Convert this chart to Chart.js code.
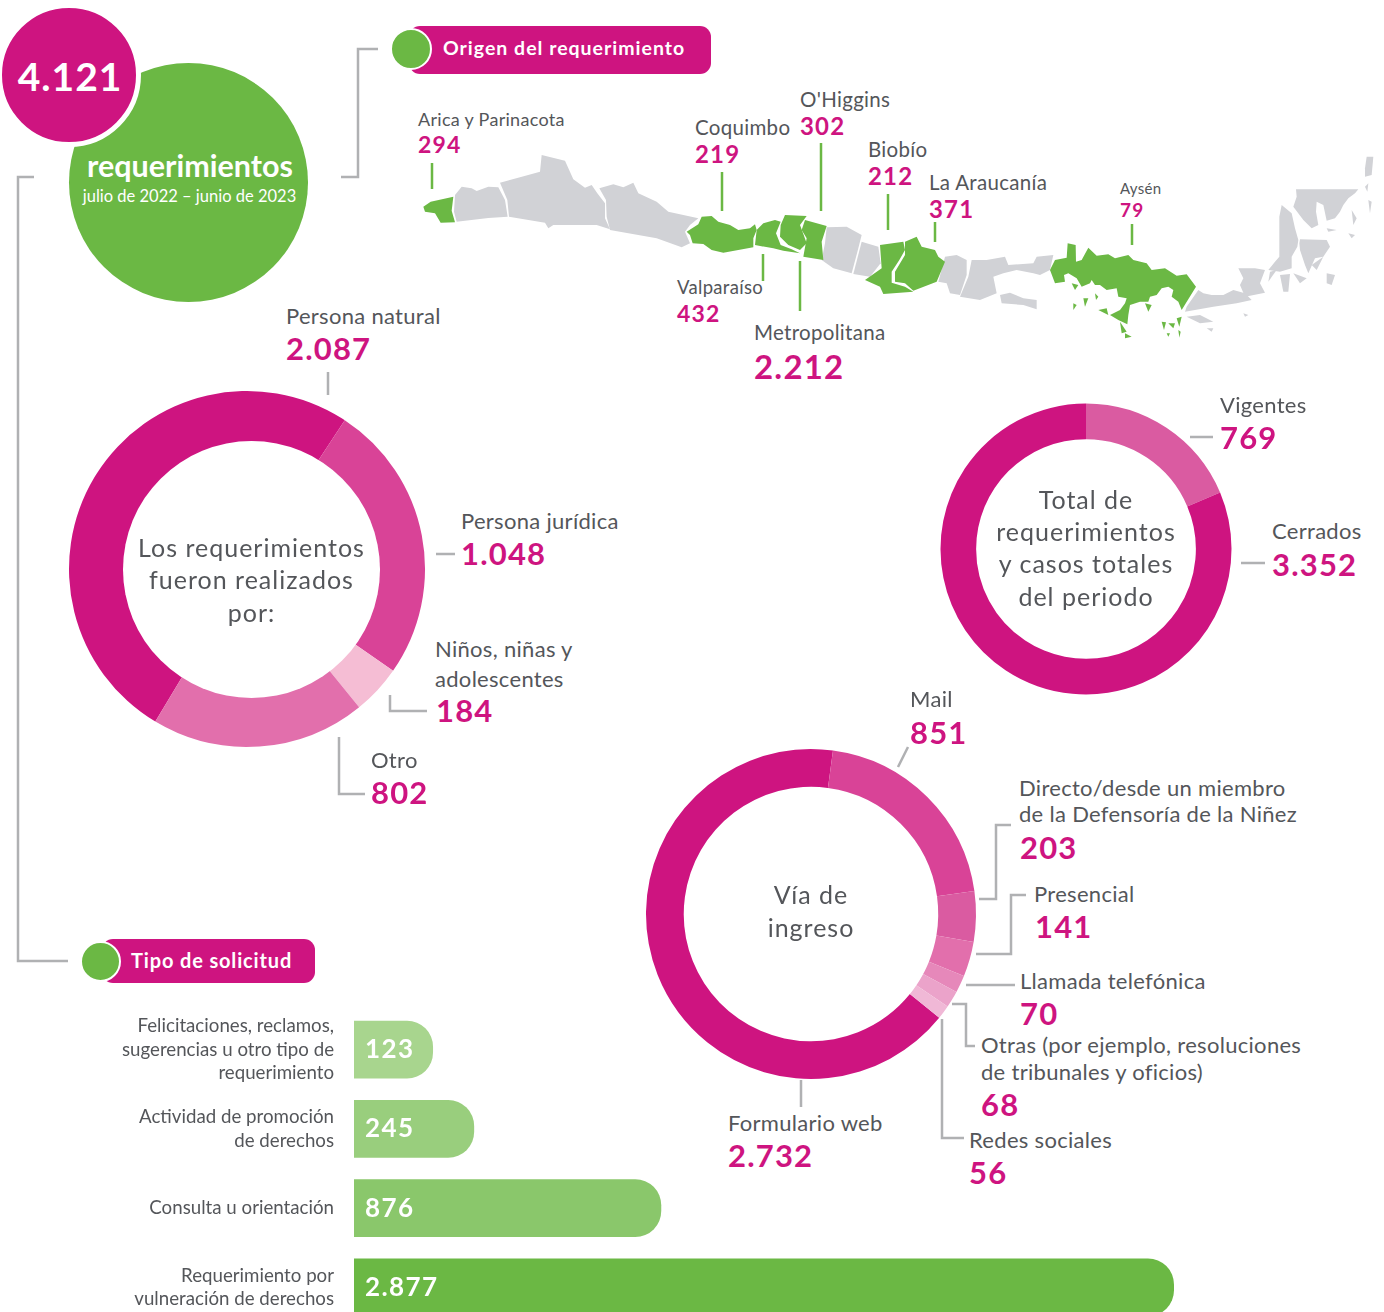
<!DOCTYPE html>
<html lang="es">
<head>
<meta charset="utf-8">
<title>Requerimientos julio de 2022 – junio de 2023</title>
<script src="https://cdn.jsdelivr.net/npm/chart.js@4"></script>
<style>
  html, body { margin: 0; padding: 0; background: #fff; }
  body { width: 1384px; height: 1312px; overflow: hidden; }
  #page { position: relative; width: 1384px; height: 1312px; overflow: hidden; font-family: Lato, sans-serif; color: #54565a; }
  #page canvas, #page svg { position: absolute; }
  .t { position: absolute; white-space: nowrap; transform: translateY(calc(-50% - 1px)); line-height: 1; }
  .c { transform: translate(-50%, calc(-50% - 1px)); }
  .name { font-size: 22px; letter-spacing: .3px; }
  .num { font-size: 31px; font-weight: 700; color: #ce1480; letter-spacing: 1.2px; }
  .mid { font-size: 25px; letter-spacing: 1px; }
  .w { color: #fff; }
  .blob { position: absolute; border-radius: 50%; box-sizing: border-box; }
  .pill { position: absolute; background: #ce1480; border-radius: 11px; }
</style>
</head>
<body>
<div id="page">
  <div class="blob" style="left:69px;top:63px;width:239px;height:239px;background:#6bb844"></div>
  <div class="blob" style="left:-3px;top:3px;width:144px;height:144px;background:#ce1480;border:5px solid #fff"></div>
  <div class="t c w" style="left:70px;top:77px;font-size:39px;font-weight:700;letter-spacing:1px">4.121</div>
  <div class="t c w" style="left:190px;top:166px;font-size:30.5px;font-weight:700">requerimientos</div>
  <div class="t c w" style="left:189.5px;top:197px;font-size:16.5px">julio de 2022 – junio de 2023</div>

  <div class="pill" style="left:409px;top:26px;width:302px;height:48px"></div>
  <div class="blob" style="left:390px;top:28px;width:42px;height:42px;background:#6bb844;border:2px solid #fff"></div>
  <div class="t w" style="left:443px;top:49px;font-size:19.5px;font-weight:700;letter-spacing:1px">Origen del requerimiento</div>

  <div class="pill" style="left:102px;top:939px;width:213px;height:44px"></div>
  <div class="blob" style="left:80px;top:941px;width:41px;height:41px;background:#6bb844;border:2px solid #fff"></div>
  <div class="t w" style="left:131px;top:961px;font-size:20px;font-weight:700;letter-spacing:.85px">Tipo de solicitud</div>

  <!-- mapa de regiones, trazado sobre los recortes a 3x -->
  <svg width="1384" height="1312" style="left:0;top:0">
    <g transform="translate(410 90) scale(.33333)" stroke="none">
      <g fill="#d1d2d6">
        <polygon points="155,290 185,295 200,303 235,290 265,292 285,330 293,380 235,384 140,395 132,365 135,315"/>
        <polygon points="270,278 330,262 390,245 395,195 465,212 490,268 525,293 545,285 562,310 585,340 585,385 600,418 560,405 430,405 415,415 405,398 297,380 292,330"/>
        <polygon points="568,295 610,283 640,292 670,278 685,310 740,335 775,365 820,375 865,385 840,405 825,425 840,460 815,472 740,445 600,420 590,380 588,330"/>
        <polygon points="1250,412 1310,410 1355,435 1345,475 1325,550 1270,535 1235,510 1245,460"/>
        <polygon points="1355,455 1405,470 1412,520 1380,560 1330,552"/>
      </g>
      <g fill="#6bb844">
        <polygon points="40,350 62,335 130,320 125,362 135,397 92,398 75,370 45,365"/>
        <polygon points="830,425 865,403 875,380 905,378 925,395 960,405 985,420 1020,415 1035,403 1040,420 1030,445 1030,472 940,488 905,480 880,462 848,460 840,435"/>
        <polygon points="1035,465 1040,420 1060,400 1095,390 1112,395 1098,430 1112,465 1145,478 1170,490 1120,482 1090,475"/>
        <polygon points="1125,375 1190,378 1170,405 1180,432 1190,460 1170,480 1135,465 1110,440 1112,405"/>
        <polygon points="1185,390 1250,408 1235,455 1240,510 1180,500 1190,445 1175,420"/>
      </g>
    </g>
    <g transform="translate(860 140) scale(.33333)" stroke="none">
      <g fill="#d1d2d6">
        <polygon points="255,350 290,345 320,360 320,405 300,465 270,460 260,430 235,425"/>
        <polygon points="335,360 380,360 435,350 445,375 520,370 530,350 580,345 570,390 540,405 520,400 470,390 430,400 400,410 410,460 360,480 300,470 325,410"/>
        <polygon points="420,465 450,458 490,475 530,480 530,508 490,495 425,490"/>
      </g>
      <g fill="#6bb844">
        <polygon points="60,315 130,305 135,330 118,360 95,395 95,428 135,440 160,455 70,462 60,440 15,420 65,385"/>
        <polygon points="135,305 170,290 185,320 225,330 235,350 255,365 230,425 160,452 135,430 105,425 105,395 135,345"/>
      </g>
    </g>
    <g transform="translate(1040 235) scale(.33333)" fill="#6bb844" stroke="none">
      <polygon points="30,105 45,75 80,68 83,25 107,30 108,80 125,75 145,38 170,62 205,58 225,70 265,60 280,75 320,85 335,105 375,100 410,122 440,118 468,155 425,225 415,200 395,185 400,165 385,155 365,160 350,180 330,185 325,200 300,200 270,210 265,240 262,268 235,255 210,240 240,225 255,205 260,190 235,185 230,160 200,165 180,150 165,150 155,135 160,125 150,145 125,155 110,130 85,115 72,120 75,140 45,145"/>
      <polygon points="95,145 115,150 105,165"/>
      <polygon points="130,190 145,190 135,215"/>
      <polygon points="100,205 110,210 100,225"/>
      <polygon points="165,175 175,185 168,195"/>
      <polygon points="315,205 335,210 325,230"/>
      <polygon points="175,225 200,220 205,240"/>
      <polygon points="240,260 260,290 245,295"/>
      <polygon points="255,295 275,305 255,310"/>
      <polygon points="365,260 378,262 372,285"/>
      <polygon points="385,265 405,265 400,280"/>
      <polygon points="410,250 425,245 418,275"/>
      <polygon points="380,295 390,295 385,305"/>
      <polygon points="415,285 422,290 418,308"/>
    </g>
    <g transform="translate(1180 150) scale(.33333)" fill="#d1d2d6" stroke="none">
      <polygon points="348,118 535,118 525,130 505,145 490,165 480,185 465,205 440,212 430,165 410,155 408,185 415,225 395,235 370,210 340,170 350,140"/>
      <polygon points="305,165 335,190 345,235 355,270 352,290 335,320 335,355 300,365 265,360 285,335 298,320 298,200"/>
      <polygon points="360,268 440,270 450,290 430,320 405,325 385,370 375,345 360,300 358,280"/>
      <polygon points="175,355 225,355 255,360 240,400 255,428 195,440 180,405 190,385"/>
      <polygon points="55,420 20,470 15,485 100,470 170,460 215,450 195,430 160,420 130,435 95,435 70,430"/>
      <polygon points="555,55 560,20 580,20 575,75 555,80"/>
      <polygon points="300,375 330,372 325,425 310,425"/>
      <polygon points="340,370 380,385 360,400"/>
      <polygon points="395,345 430,320 410,360"/>
      <polygon points="270,365 290,360 265,395"/>
      <polygon points="440,370 465,375 455,405 440,400"/>
      <polygon points="515,180 530,205 520,225"/>
      <polygon points="505,250 525,255 515,265"/>
      <polygon points="20,500 60,495 100,515 60,520"/>
      <polygon points="190,490 205,495 195,500"/>
      <polygon points="80,535 100,535 95,545"/>
      <polygon points="440,235 470,240 445,245"/>
      <polygon points="555,110 565,100 562,125"/>
      <polygon points="565,150 575,155 570,190"/>
    </g>
    <g fill="none" stroke="#6bb844" stroke-width="2.5">
      <path d="M432 163V189M722 172V211M821 143V211M888 194V230M935 222V242M1132 224V245M763 254V281M800 261V311"/>
    </g>
    <g fill="none" stroke="#b0b1b3" stroke-width="2.5">
      <path d="M378 49H358V177H341M34 177H18V961H68"/>
      <path d="M328 372V395M436 554H455M427 711H390V695M339 737V794H365"/>
      <path d="M1190 437H1213M1241 563H1265"/>
      <path d="M908 747L898 767M1011 825H996V899H979M1026 895H1011V954H976M966 985H1015M952 1004H966V1046H975M942 1019V1138H964M801 1080V1107"/>
    </g>
  </svg>
</div>

<script>
const regionNames = ['Arica y Parinacota', 'Coquimbo', "O'Higgins", 'Biobío', 'La Araucanía', 'Aysén', 'Valparaíso', 'Metropolitana'];
const regionValues = [294, 219, 302, 212, 371, 79, 432, 2212];

const solicitanteNames = ['Persona natural', 'Persona jurídica', 'Niños, niñas y|adolescentes', 'Otro'];
const solicitanteValues = [2087, 1048, 184, 802];
const solicitanteColors = ['#ce1480', '#d94397', '#f5bdd4', '#e26fac'];

const estadoNames = ['Vigentes', 'Cerrados'];
const estadoValues = [769, 3352];
const estadoColors = ['#da5ba1', '#ce1480'];

const viaNames = ['Formulario web', 'Mail', 'Directo/desde un miembro|de la Defensoría de la Niñez', 'Presencial', 'Llamada telefónica', 'Otras (por ejemplo, resoluciones|de tribunales y oficios)', 'Redes sociales'];
const viaValues = [2732, 851, 203, 141, 70, 68, 56];
const viaColors = ['#ce1480', '#d94397', '#da5ba1', '#e26fac', '#e688ba', '#eba3ca', '#f0b8d6'];

const tipoLabels = [
  ['Felicitaciones, reclamos,', 'sugerencias u otro tipo de', 'requerimiento'],
  ['Actividad de promoción', 'de derechos'],
  ['Consulta u orientación'],
  ['Requerimiento por', 'vulneración de derechos'],
];
const tipoValues = [123, 245, 876, 2877];
const tipoColors = ['#a8d58e', '#99ce7d', '#8ac76b', '#6bb844'];

const page = document.getElementById('page');
const fmt = v => String(v).replace(/\B(?=(\d{3})+$)/g, '.');

const donut = (values, colors, cx, cy, outer, inner, rotation) => {
  const size = Math.ceil(outer) * 2 + 2;
  const canvas = document.createElement('canvas');
  canvas.width = size;
  canvas.height = size;
  canvas.style.left = cx - size / 2 + 'px';
  canvas.style.top = cy - size / 2 + 'px';
  page.appendChild(canvas);
  new Chart(canvas, {
    type: 'doughnut',
    data: { datasets: [{ data: values, backgroundColor: colors, borderWidth: 0 }] },
    options: {
      responsive: false,
      animation: false,
      radius: outer,
      cutout: inner,
      rotation: rotation,
      plugins: { legend: { display: false }, tooltip: { enabled: false } },
    },
  });
};

donut(solicitanteValues, solicitanteColors, 246.8, 569, 178, 120, 211);
donut(estadoValues, estadoColors, 1086, 549, 145.5, 111, 0);
donut(viaValues, viaColors, 811, 914, 165, 128, 129);

// el hueco del primer anillo esta descentrado 4px a la derecha en el original
const hole = document.createElement('div');
hole.className = 'blob';
hole.style.cssText = 'left:122.5px;top:440.5px;width:257px;height:257px;background:#fff';
page.appendChild(hole);

const addText = (x, y, text, cls, size) => {
  const d = document.createElement('div');
  d.className = 't ' + cls;
  d.style.left = x + 'px';
  d.style.top = y + 'px';
  if (size) d.style.fontSize = size + 'px';
  d.textContent = text;
  page.appendChild(d);
};

// name + value pairs: x, y of each line, sizes
const addLabel = (name, value, x, ys, vx, vy, nameSize, numSize) => {
  name.split('|').forEach((line, i) => addText(x, ys[i], line, 'name', nameSize));
  addText(vx, vy, fmt(value), 'num', numSize);
};

const regionPos = [
  [418, [120], 418, 145, 18, 23], [695, [128], 695, 155, 20.5, 24], [800, [100], 800, 127, 20.5, 24],
  [868, [150], 868, 177, 20.5, 24], [929, [183], 929, 210, 20.5, 24], [1120, [189], 1120, 210, 15, 19],
  [677, [288], 677, 314, 18.5, 23], [754, [333], 754, 366.5, 20.5, 33],
];
regionNames.forEach((n, i) => {
  const p = regionPos[i];
  addLabel(n, regionValues[i], p[0], p[1], p[2], p[3], p[4], p[5]);
});

const solicitantePos = [[286, [317], 286, 349], [461, [522], 461, 554], [435, [650, 680], 436, 711], [371, [761], 371, 793]];
solicitanteNames.forEach((n, i) => {
  const p = solicitantePos[i];
  addLabel(n, solicitanteValues[i], p[0], p[1], p[2], p[3]);
});

const estadoPos = [[1220, [406], 1220, 438], [1272, [532], 1272, 565]];
estadoNames.forEach((n, i) => {
  const p = estadoPos[i];
  addLabel(n, estadoValues[i], p[0], p[1], p[2], p[3]);
});

const viaPos = [
  [728, [1124], 728, 1156], [910, [700], 910, 733], [1019, [789, 815], 1020, 848], [1034, [895], 1035, 927],
  [1020, [982], 1020, 1014], [981, [1046, 1073], 981, 1105], [969, [1141], 969, 1173],
];
viaNames.forEach((n, i) => {
  const p = viaPos[i];
  addLabel(n, viaValues[i], p[0], p[1], p[2], p[3]);
});

[['Los requerimientos', 251.5, 548], ['fueron realizados', 251.5, 580], ['por:', 251.5, 613],
 ['Total de', 1086, 500], ['requerimientos', 1086, 532], ['y casos totales', 1086, 564], ['del periodo', 1086, 597],
 ['Vía de', 811, 895], ['ingreso', 811, 928]].forEach(l => addText(l[1], l[2], l[0], 'mid c'));

// las barras del original no son lineales: el ancho sigue aprox. v^0.88
class BendScale extends Chart.LinearScale {
  _bend(v) {
    return v <= 0 ? 0 : (41.6 + Math.pow(v, 0.88)) / (41.6 + Math.pow(this.max, 0.88));
  }
  getPixelForValue(v) {
    return this.left + this.width * this._bend(v);
  }
}
BendScale.id = 'bend';
BendScale.defaults = Chart.LinearScale.defaults;
Chart.register(BendScale);

const barValues = {
  id: 'barValues',
  afterDatasetsDraw(chart) {
    const { ctx } = chart;
    ctx.save();
    ctx.fillStyle = '#fff';
    ctx.font = '700 26px Lato';
    ctx.letterSpacing = '1.4px';
    ctx.textBaseline = 'middle';
    chart.getDatasetMeta(0).data.forEach((bar, i) => {
      ctx.fillText(fmt(tipoValues[i]), bar.base + 11, bar.y);
    });
    ctx.restore();
  },
};

const barCanvas = document.createElement('canvas');
barCanvas.width = 1384;
barCanvas.height = 317;
barCanvas.style.left = '0px';
barCanvas.style.top = '1010px';
page.appendChild(barCanvas);

new Chart(barCanvas, {
  type: 'bar',
  data: {
    labels: tipoLabels,
    datasets: [{
      data: tipoValues,
      backgroundColor: tipoColors,
      borderRadius: { topRight: 26, bottomRight: 26 },
      categoryPercentage: 1,
      barPercentage: 0.731,
    }],
  },
  options: {
    indexAxis: 'y',
    responsive: false,
    animation: false,
    layout: { padding: { left: 0, right: 210, top: 0, bottom: 0 } },
    plugins: { legend: { display: false }, tooltip: { enabled: false } },
    scales: {
      x: { type: 'bend', min: 0, max: 2877, display: false },
      y: {
        grid: { display: false, drawTicks: false },
        border: { display: false },
        afterFit: scale => {
          scale.width = 354;
          scale.paddingTop = 0;
          scale.paddingBottom = 0;
        },
        ticks: {
          padding: 20,
          color: '#54565a',
          autoSkip: false,
          font: { family: 'Lato', size: 18.7, lineHeight: 1.26 },
        },
      },
    },
  },
  plugins: [barValues],
});
</script>
</body>
</html>
